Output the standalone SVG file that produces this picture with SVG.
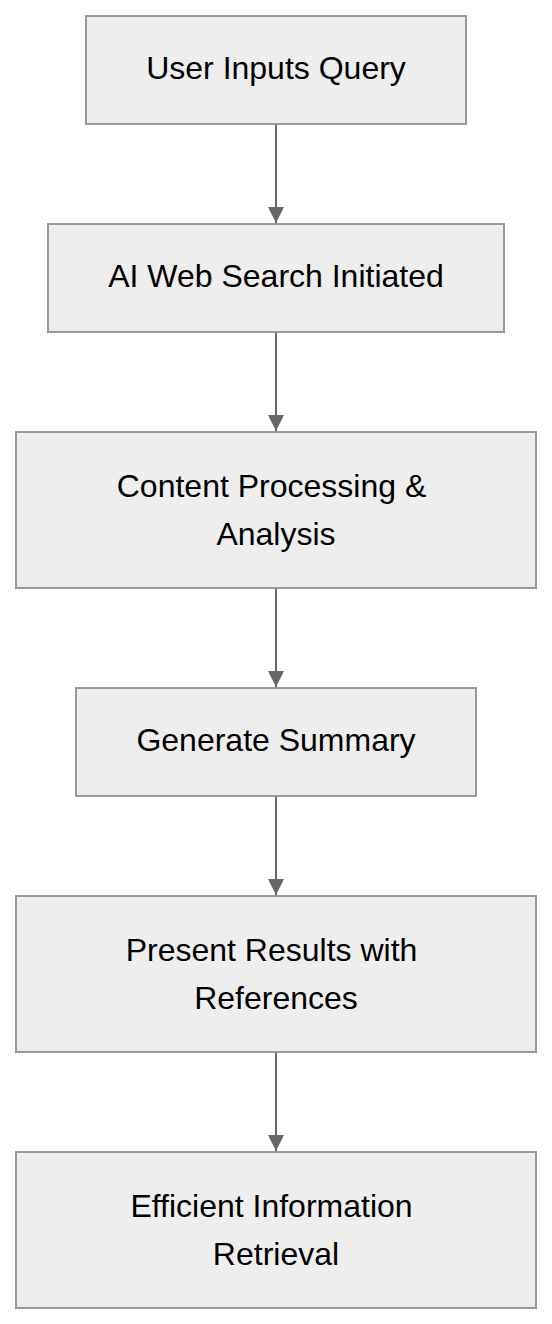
<svg xmlns="http://www.w3.org/2000/svg" width="552" height="1324" viewBox="0 0 552 1324">
<style>
.node rect { fill: #eeeeee; stroke: #999999; stroke-width: 2; }
.node text { font-family: "Liberation Sans", Arial, Helvetica, sans-serif; font-size: 32px; fill: #000000; text-anchor: middle; }
.edge { stroke: #666666; stroke-width: 2; fill: none; }
</style>
<defs>
<marker id="arrow" markerWidth="16" markerHeight="16" refX="16" refY="8" orient="auto" markerUnits="userSpaceOnUse">
<path d="M0,0 L16,8 L0,16 Z" fill="#666666"/>
</marker>
</defs>
<rect width="552" height="1324" fill="#ffffff"/>
<g id="connectors">
<line class="edge" x1="276" y1="124" x2="276" y2="223" marker-end="url(#arrow)"/>
<line class="edge" x1="276" y1="332" x2="276" y2="431" marker-end="url(#arrow)"/>
<line class="edge" x1="276" y1="588" x2="276" y2="687" marker-end="url(#arrow)"/>
<line class="edge" x1="276" y1="796" x2="276" y2="895" marker-end="url(#arrow)"/>
<line class="edge" x1="276" y1="1052" x2="276" y2="1151" marker-end="url(#arrow)"/>
</g>
<g id="node1" class="node">
<rect x="86" y="16" width="380" height="108"/>
<text x="276" y="79">User Inputs Query</text>
</g>
<g id="node2" class="node">
<rect x="48" y="224" width="456" height="108"/>
<text x="276" y="287">AI Web Search Initiated</text>
</g>
<g id="node3" class="node">
<rect x="16" y="432" width="520" height="156"/>
<text x="271.5" y="497">Content Processing &amp;</text>
<text x="276" y="545">Analysis</text>
</g>
<g id="node4" class="node">
<rect x="76" y="688" width="400" height="108"/>
<text x="276" y="751">Generate Summary</text>
</g>
<g id="node5" class="node">
<rect x="16" y="896" width="520" height="156"/>
<text x="271.5" y="961">Present Results with</text>
<text x="276" y="1009">References</text>
</g>
<g id="node6" class="node">
<rect x="16" y="1152" width="520" height="156"/>
<text x="271.5" y="1217">Efficient Information</text>
<text x="276" y="1265">Retrieval</text>
</g>
</svg>
